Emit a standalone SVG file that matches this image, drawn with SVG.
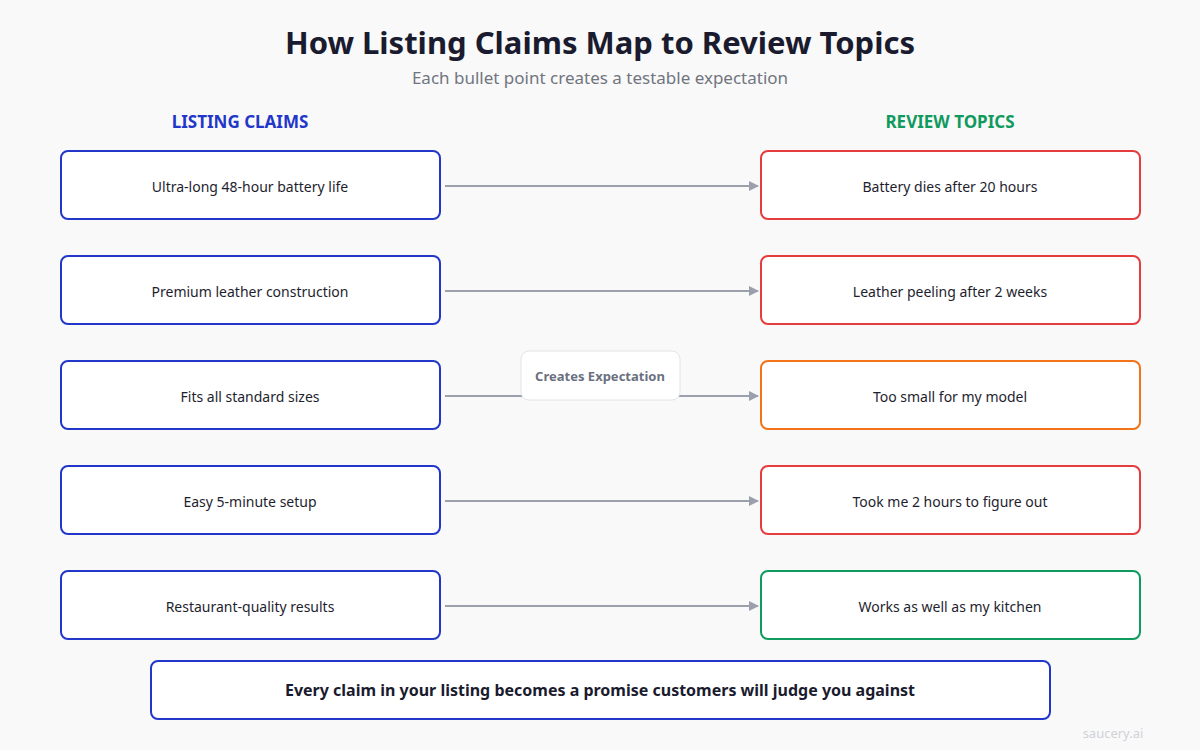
<svg xmlns="http://www.w3.org/2000/svg" width="1200" height="750" viewBox="0 0 1200 750">
<style>
text{font-family:"Noto Sans","Open Sans",sans-serif;text-anchor:middle}
.l{fill:#fff;stroke:#2237c9;stroke-width:2}
.r{fill:#fff;stroke-width:2}
.t{font-size:14px;fill:#1e1e2e}
.c{stroke:#9ca0ad;stroke-width:2;fill:none}
</style>
<defs><marker id="a" markerWidth="10" markerHeight="10" refX="9" refY="5" orient="auto" markerUnits="userSpaceOnUse"><path d="M0,0 L10,5 L0,10 z" fill="#9ca0ad"/></marker></defs>
<rect width="1200" height="750" fill="#f9f9f9"/>
<text x="600" y="54" font-size="31" font-weight="bold" fill="#1a1b2e">How Listing Claims Map to Review Topics</text>
<text x="600" y="84" font-size="17" fill="#71757f">Each bullet point creates a testable expectation</text>
<text x="240" y="128" font-size="17" font-weight="bold" fill="#2237c9">LISTING CLAIMS</text>
<text x="950" y="128" font-size="17" font-weight="bold" fill="#0f9a5e">REVIEW TOPICS</text>
<g id="connectors">
<path class="c" d="M445,186H758" marker-end="url(#a)"/>
<path class="c" d="M445,291H758" marker-end="url(#a)"/>
<path class="c" d="M445,396H758" marker-end="url(#a)"/>
<path class="c" d="M445,501H758" marker-end="url(#a)"/>
<path class="c" d="M445,606H758" marker-end="url(#a)"/>
</g>
<g id="label"><rect x="521" y="351" width="159" height="49" rx="8" fill="#fff" stroke="#e3e4e8"/><text x="600" y="381" font-size="13" font-weight="bold" fill="#6b7080">Creates Expectation</text></g>
<g id="c1"><rect class="l" x="61" y="151" width="379" height="68" rx="7"/><text class="t" x="250" y="192">Ultra-long 48-hour battery life</text></g>
<g id="c2"><rect class="l" x="61" y="256" width="379" height="68" rx="7"/><text class="t" x="250" y="297">Premium leather construction</text></g>
<g id="c3"><rect class="l" x="61" y="361" width="379" height="68" rx="7"/><text class="t" x="250" y="402">Fits all standard sizes</text></g>
<g id="c4"><rect class="l" x="61" y="466" width="379" height="68" rx="7"/><text class="t" x="250" y="507">Easy 5-minute setup</text></g>
<g id="c5"><rect class="l" x="61" y="571" width="379" height="68" rx="7"/><text class="t" x="250" y="612">Restaurant-quality results</text></g>
<g id="r1"><rect class="r" stroke="#e53d3d" x="761" y="151" width="379" height="68" rx="7"/><text class="t" x="950" y="192">Battery dies after 20 hours</text></g>
<g id="r2"><rect class="r" stroke="#e53d3d" x="761" y="256" width="379" height="68" rx="7"/><text class="t" x="950" y="297">Leather peeling after 2 weeks</text></g>
<g id="r3"><rect class="r" stroke="#f27318" x="761" y="361" width="379" height="68" rx="7"/><text class="t" x="950" y="402">Too small for my model</text></g>
<g id="r4"><rect class="r" stroke="#e53d3d" x="761" y="466" width="379" height="68" rx="7"/><text class="t" x="950" y="507">Took me 2 hours to figure out</text></g>
<g id="r5"><rect class="r" stroke="#0f9a5e" x="761" y="571" width="379" height="68" rx="7"/><text class="t" x="950" y="612">Works as well as my kitchen</text></g>
<g id="footer"><rect class="l" x="151" y="661" width="899" height="58" rx="7"/><text x="600" y="696" font-size="16" font-weight="bold" fill="#1a1b2e">Every claim in your listing becomes a promise customers will judge you against</text></g>
<text x="1113" y="738" font-size="13" fill="#d0d2d8">saucery.ai</text>
</svg>
